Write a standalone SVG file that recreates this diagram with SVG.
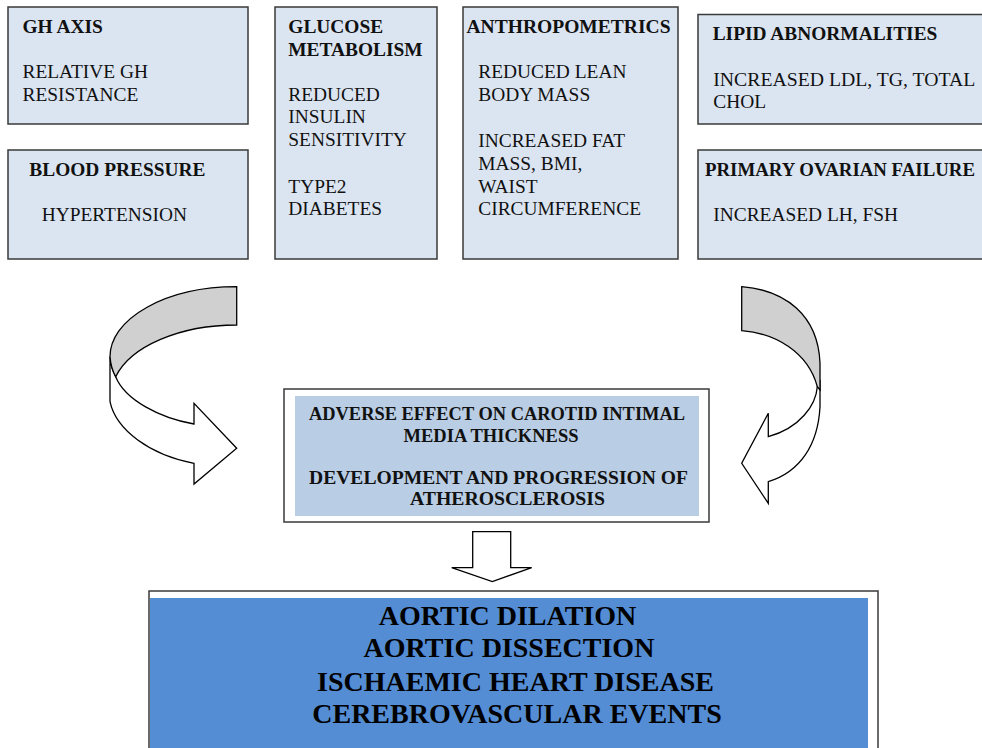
<svg xmlns="http://www.w3.org/2000/svg" width="982" height="748" viewBox="0 0 982 748">
<style>
.box{fill:#dbe5f1;stroke:#3a3a3a;stroke-width:1.5}
.t{font-size:19.4px;fill:#111}
.b{font-weight:bold}
.m{font-size:18.5px;font-weight:bold;fill:#111;text-anchor:middle}
.big{font-size:28px;font-weight:bold;fill:#000;text-anchor:middle}
.arr{stroke:#000;stroke-width:1.3;stroke-linejoin:miter}
</style>
<rect width="982" height="748" fill="#fff"/>
<g font-family="Liberation Serif, Times New Roman, serif">
<g id="gh-axis">
<rect class="box" x="8" y="7" width="240" height="117"/>
<text class="t b" x="22.5" y="33">GH AXIS</text>
<text class="t" x="22.5" y="78">RELATIVE GH</text>
<text class="t" x="22.5" y="100.7">RESISTANCE</text>
</g>
<g id="blood-pressure">
<rect class="box" x="8" y="150" width="240" height="109"/>
<text class="t b" x="29.3" y="176">BLOOD PRESSURE</text>
<text class="t" x="41.7" y="220.7">HYPERTENSION</text>
</g>
<g id="glucose">
<rect class="box" x="275" y="7" width="162" height="252"/>
<text class="t b" x="288.3" y="33">GLUCOSE</text>
<text class="t b" x="288.3" y="55.5">METABOLISM</text>
<text class="t" x="288.3" y="100.7">REDUCED</text>
<text class="t" x="288.3" y="123.3">INSULIN</text>
<text class="t" x="288.3" y="146.3">SENSITIVITY</text>
<text class="t" x="288.3" y="192.7">TYPE2</text>
<text class="t" x="288.3" y="215">DIABETES</text>
</g>
<g id="anthropometrics">
<rect class="box" x="463" y="7" width="215" height="252"/>
<text class="t b" x="466.5" y="32.5" textLength="204" lengthAdjust="spacingAndGlyphs">ANTHROPOMETRICS</text>
<text class="t" x="478.3" y="78">REDUCED LEAN</text>
<text class="t" x="478.3" y="100.7">BODY MASS</text>
<text class="t" x="478.3" y="147">INCREASED FAT</text>
<text class="t" x="478.3" y="169.7">MASS, BMI,</text>
<text class="t" x="478.3" y="192.5">WAIST</text>
<text class="t" x="478.3" y="215">CIRCUMFERENCE</text>
</g>
<g id="lipid">
<rect class="box" x="698" y="14.5" width="290" height="109.5"/>
<text class="t b" x="712.7" y="40">LIPID ABNORMALITIES</text>
<text class="t" x="713.3" y="86" textLength="262" lengthAdjust="spacingAndGlyphs">INCREASED LDL, TG, TOTAL</text>
<text class="t" x="713.3" y="108.3">CHOL</text>
</g>
<g id="ovarian">
<rect class="box" x="698" y="150" width="290" height="109"/>
<text class="t b" x="705" y="176" textLength="270" lengthAdjust="spacingAndGlyphs">PRIMARY OVARIAN FAILURE</text>
<text class="t" x="713.3" y="220.7">INCREASED LH, FSH</text>
</g>
<g id="carotid">
<rect x="284" y="389" width="425" height="133" fill="#fff" stroke="#3a3a3a" stroke-width="1.5"/>
<rect x="295" y="396" width="404" height="120" fill="#b9cde4"/>
<text class="m" x="497" y="420" textLength="376" lengthAdjust="spacingAndGlyphs">ADVERSE EFFECT ON CAROTID INTIMAL</text>
<text class="m" x="491" y="442.3">MEDIA THICKNESS</text>
<text class="m" x="498.5" y="484" textLength="379" lengthAdjust="spacingAndGlyphs">DEVELOPMENT AND PROGRESSION OF</text>
<text class="m" x="507.5" y="505" textLength="195" lengthAdjust="spacingAndGlyphs">ATHEROSCLEROSIS</text>
</g>
<g id="outcomes">
<rect x="149" y="591" width="729" height="170" fill="#fff" stroke="#3a3a3a" stroke-width="1.5"/>
<rect x="150" y="598" width="718" height="152" fill="#548dd4"/>
<text class="big" x="507.5" y="625">AORTIC DILATION</text>
<text class="big" x="509" y="657">AORTIC DISSECTION</text>
<text class="big" x="515.5" y="691">ISCHAEMIC HEART DISEASE</text>
<text class="big" x="517" y="723">CEREBROVASCULAR EVENTS</text>
</g>
</g>
<g id="connectors">
<path class="arr" fill="#fff" d="M110,356.7 L110,401.7 C116,430 150,455 194,463.3 L194,484 L236.7,448.3 L194,403.3 L194,424 C160,418 125,400 115.7,376.7 C112,370 110.5,363 110,356.7 Z"/>
<path class="arr" fill="#d0d0d0" d="M236.7,286.7 A126.7,70 0 0 0 110,356.7 C110.5,363 112,370 115.7,376.7 A125.3,70 0 0 1 236.7,325 Z"/>
<path class="arr" fill="#fff" d="M817.3,386.7 C816,405 800,428 768.3,436.7 L768.3,413.3 L741.7,463.3 L768.3,503.3 L768.3,481.7 C800,472 818,445 820,406.7 L820,380 Z"/>
<path class="arr" fill="#d0d0d0" d="M741.7,286.7 L741.7,330.7 C775,333 808,352 817.3,386.7 L820,390 L820,363 C818,315 785,290 741.7,286.7 Z"/>
<path class="arr" fill="#fff" d="M472.7,531.7 L510.7,531.7 L510.7,567.7 L531.7,567.7 L492.3,581.5 L451.7,567.7 L472.7,567.7 Z"/>
</g>
</svg>
